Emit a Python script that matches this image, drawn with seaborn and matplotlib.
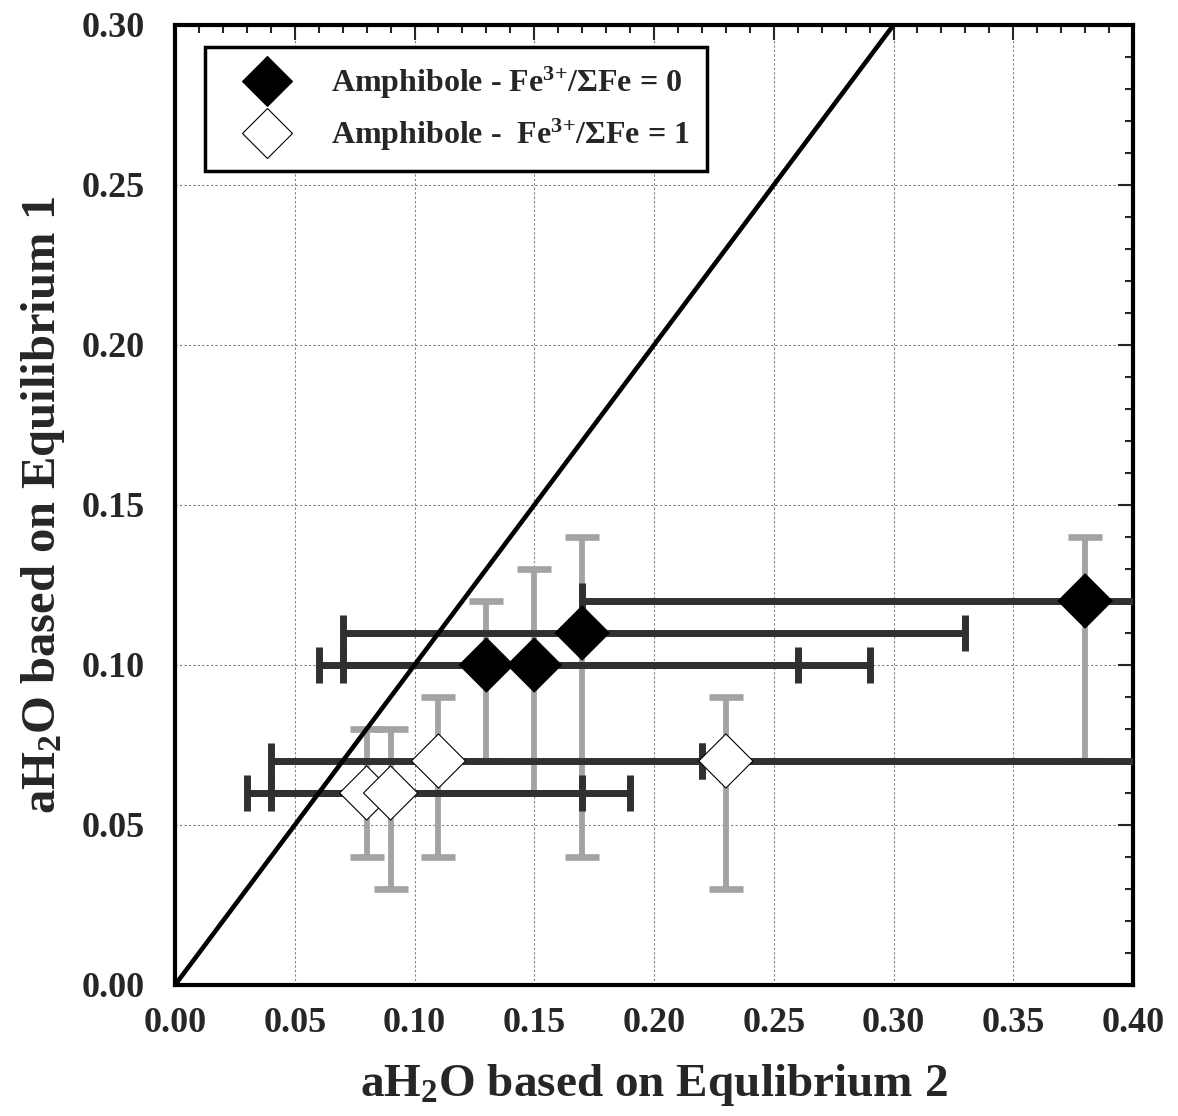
import numpy as np
import pandas as pd
import matplotlib.pyplot as plt
import seaborn as sns
from matplotlib.lines import Line2D
from matplotlib.ticker import MultipleLocator

# Amphibole - Fe3+/SumFe = 0 (filled)
fe0_x = [0.13, 0.15, 0.17, 0.38]
fe0_y = [0.10, 0.10, 0.11, 0.12]
fe0_xlo = [0.06, 0.07, 0.07, 0.17]
fe0_xhi = [0.26, 0.29, 0.33, 0.45]
fe0_ylo = [0.07, 0.06, 0.04, 0.07]
fe0_yhi = [0.12, 0.13, 0.14, 0.14]

# Amphibole - Fe3+/SumFe = 1 (open)
fe1_x = [0.08, 0.09, 0.11, 0.23]
fe1_y = [0.06, 0.06, 0.07, 0.07]
fe1_xlo = [0.03, 0.04, 0.04, 0.22]
fe1_xhi = [0.17, 0.19, 0.22, 0.45]
fe1_ylo = [0.04, 0.03, 0.04, 0.03]
fe1_yhi = [0.08, 0.08, 0.09, 0.09]

lab0 = r'Amphibole - Fe$^{3{+}}$/ΣFe = 0'
lab1 = r'Amphibole -  Fe$^{3{+}}$/ΣFe = 1'
one_to_one = [0.0, 0.3]

sns.set_style('white')
plt.rcParams['font.family'] = ['Liberation Serif', 'DejaVu Serif']
plt.rcParams['font.weight'] = 'bold'
plt.rcParams['mathtext.fontset'] = 'custom'
plt.rcParams['mathtext.rm'] = 'Liberation Serif:bold'
plt.rcParams['mathtext.it'] = 'Liberation Serif:bold'
plt.rcParams['mathtext.bf'] = 'Liberation Serif:bold'

df = pd.DataFrame({
    'x': fe0_x + fe1_x,
    'y': fe0_y + fe1_y,
    'xlo': fe0_xlo + fe1_xlo,
    'xhi': fe0_xhi + fe1_xhi,
    'ylo': fe0_ylo + fe1_ylo,
    'yhi': fe0_yhi + fe1_yhi,
    'series': [lab0] * 4 + [lab1] * 4,
})

fig = plt.figure(figsize=(11.78, 11.16), dpi=100)
ax = fig.add_axes([0.1486, 0.1174, 0.8132, 0.8602])

# vertical error bars (grey)
ax.errorbar(df['x'], df['y'], yerr=[df['y'] - df['ylo'], df['yhi'] - df['y']],
            fmt='none', ecolor='#a3a3a3', elinewidth=4.2, capsize=12, capthick=4.8,
            zorder=2)
# horizontal error bars (dark)
ax.errorbar(df['x'], df['y'], xerr=[df['x'] - df['xlo'], df['xhi'] - df['x']],
            fmt='none', ecolor='#303030', elinewidth=5, capsize=13, capthick=5,
            zorder=3)

ax.plot(one_to_one, one_to_one, color='black', lw=3.3, zorder=4)

sns.scatterplot(data=df, x='x', y='y', hue='series', palette={lab0: 'black', lab1: 'white'},
                marker='D', s=760, edgecolor='black', linewidth=0.8, legend=False,
                zorder=5, ax=ax)

ax.set_xlim(0, 0.4)
ax.set_ylim(0, 0.3)
ax.xaxis.set_major_locator(MultipleLocator(0.05))
ax.xaxis.set_minor_locator(MultipleLocator(0.01))
ax.yaxis.set_major_locator(MultipleLocator(0.05))
ax.yaxis.set_minor_locator(MultipleLocator(0.01))
ax.xaxis.set_major_formatter(lambda v, p: f'{v:.2f}')
ax.yaxis.set_major_formatter(lambda v, p: f'{v:.2f}')
ax.tick_params(which='both', direction='in', top=True, right=True, width=1.5,
               labelsize=26)
ax.tick_params(axis='x', which='major', pad=16)
ax.tick_params(axis='y', which='major', pad=22)
ax.tick_params(which='major', length=11)
ax.tick_params(which='minor', length=6)
ax.grid(True, which='major', linestyle=(0, (2, 2)), color='#808080', lw=0.8)
for sp in ax.spines.values():
    sp.set_linewidth(3)
    sp.set_color('black')

ax.set_xlabel(r'aH$_2$O based on Equlibrium 2', fontsize=34, fontweight='bold', labelpad=16)
ax.set_ylabel(r'aH$_2$O based on Equilibrium 1', fontsize=35, fontweight='bold', labelpad=10)

handles = [
    Line2D([], [], marker='D', ls='none', markersize=25, markerfacecolor='black',
           markeredgecolor='black', markeredgewidth=0.8),
    Line2D([], [], marker='D', ls='none', markersize=25, markerfacecolor='white',
           markeredgecolor='black', markeredgewidth=0.8),
]
leg = ax.legend(handles, [lab0, lab1], loc='upper left', bbox_to_anchor=(0.031, 0.977),
                borderaxespad=0, frameon=True, fancybox=False, framealpha=1,
                edgecolor='black', handlelength=2.8, handletextpad=0.6,
                labelspacing=0.5, borderpad=0.55, prop={'weight': 'bold', 'size': 23})
leg.get_frame().set_linewidth(2.5)

fig.savefig('out.png', dpi=100)
